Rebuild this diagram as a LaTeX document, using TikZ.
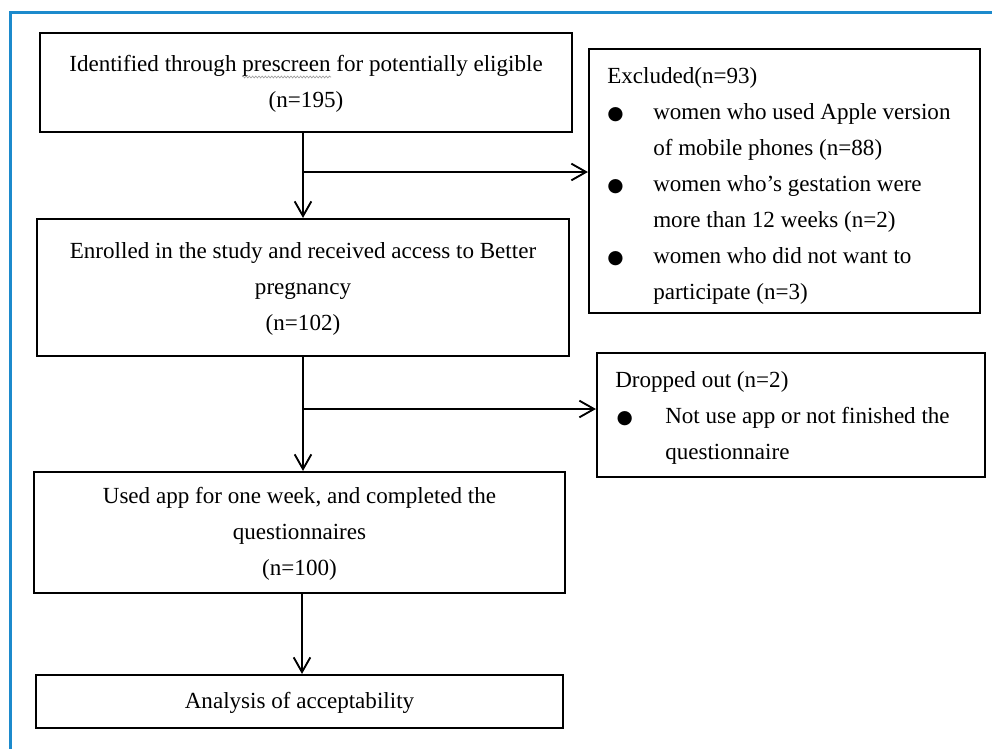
\documentclass[tikz,border=0pt]{standalone}
\usepackage{fontspec}
\setmainfont{Liberation Serif}
\newfontfamily\symf{DejaVu Sans}
\usetikzlibrary{arrows.meta,decorations.pathmorphing}
\definecolor{frameblue}{RGB}{28,138,204}
\newcommand\bul{{\symf\fontsize{14}{14}\selectfont ●}}
\newcommand\indA{\makebox[34.5pt][l]{\bul}}
\newcommand\indB{\makebox[37.5pt][l]{\hspace{1pt}\bul}}
\tikzset{
  flowbox/.style={draw, rectangle, line width=1.6pt, inner sep=0pt, fill=white,
    font=\fontsize{17.3}{27}\selectfont},
  plaintxt/.style={inner sep=0pt, font=\fontsize{17.3}{27}\selectfont},
  arr/.style={line width=1.4pt, -{Straight Barb[length=11pt,width=12.5pt]}},
  framepath/.style={line width=2.25pt, draw=frameblue, line join=miter},
  squiggle/.style={draw=gray!75, line width=0.5pt, decorate,
    decoration={snake, segment length=2.4pt, amplitude=0.7pt}}
}
\begin{document}
\begin{tikzpicture}[x=0.75pt,y=-0.75pt]
\fill[white] (0,0) rectangle (992,749);
\useasboundingbox (0,0) rectangle (992,749);
\draw[framepath] (10,760) -- (10,13) -- (1000,13);

% left column
\node[flowbox, minimum width=399pt, minimum height=74.25pt] (box1) at (306,82.5)
  {\begin{tabular}{@{}c@{}}Identified through prescreen for potentially eligible\\(n=195)\end{tabular}};
\node[flowbox, minimum width=399pt, minimum height=102.75pt] (box2) at (303,287.5)
  {\begin{tabular}{@{}c@{}}Enrolled in the study and received access to Better\\pregnancy\\(n=102)\end{tabular}};
\node[flowbox, minimum width=398.25pt, minimum height=90.75pt] (box3) at (299.5,532.5)
  {\begin{tabular}{@{}c@{}}Used app for one week, and completed the\\questionnaires\\(n=100)\end{tabular}};
\node[flowbox, minimum width=395.25pt, minimum height=39.75pt] (box4) at (299.5,701.5)
  {\begin{tabular}{@{}c@{}}Analysis of acceptability\end{tabular}};

% spell-check squiggle under "prescreen"
\draw[squiggle] (242,77) -- (331,77);

% right column boxes
\node[flowbox, minimum width=293.25pt, minimum height=198pt] (excl) at (784.5,181) {};
\node[flowbox, minimum width=291pt, minimum height=93pt] (drop) at (791,415) {};

\node[plaintxt, anchor=base west] (excltxt) at (607,84) {\begin{tabular}[t]{@{}l@{}}
Excluded(n=93)\\
\indA women who used Apple version\\
\hspace*{34.5pt}of mobile phones (n=88)\\
\indA women who’s gestation were\\
\hspace*{34.5pt}more than 12 weeks (n=2)\\
\indA women who did not want to\\
\hspace*{34.5pt}participate (n=3)
\end{tabular}};

\node[plaintxt, anchor=base west] (droptxt) at (615,387) {\begin{tabular}[t]{@{}l@{}}
Dropped out (n=2)\\
\indB Not use app or not finished the\\
\hspace*{37.5pt}questionnaire
\end{tabular}};

% connectors
\coordinate (j1) at (303,172);
\coordinate (j2) at (303,409);
\coordinate (j3) at (302,634);
\draw[arr] (j1 |- box1.south) -- (j1 |- box2.north);
\draw[arr] (j1) -- (j1 -| excl.west);
\draw[arr] (j2 |- box2.south) -- (j2 |- box3.north);
\draw[arr] (j2) -- (j2 -| drop.west);
\draw[arr] (j3 |- box3.south) -- (j3 |- box4.north);
\end{tikzpicture}
\end{document}
